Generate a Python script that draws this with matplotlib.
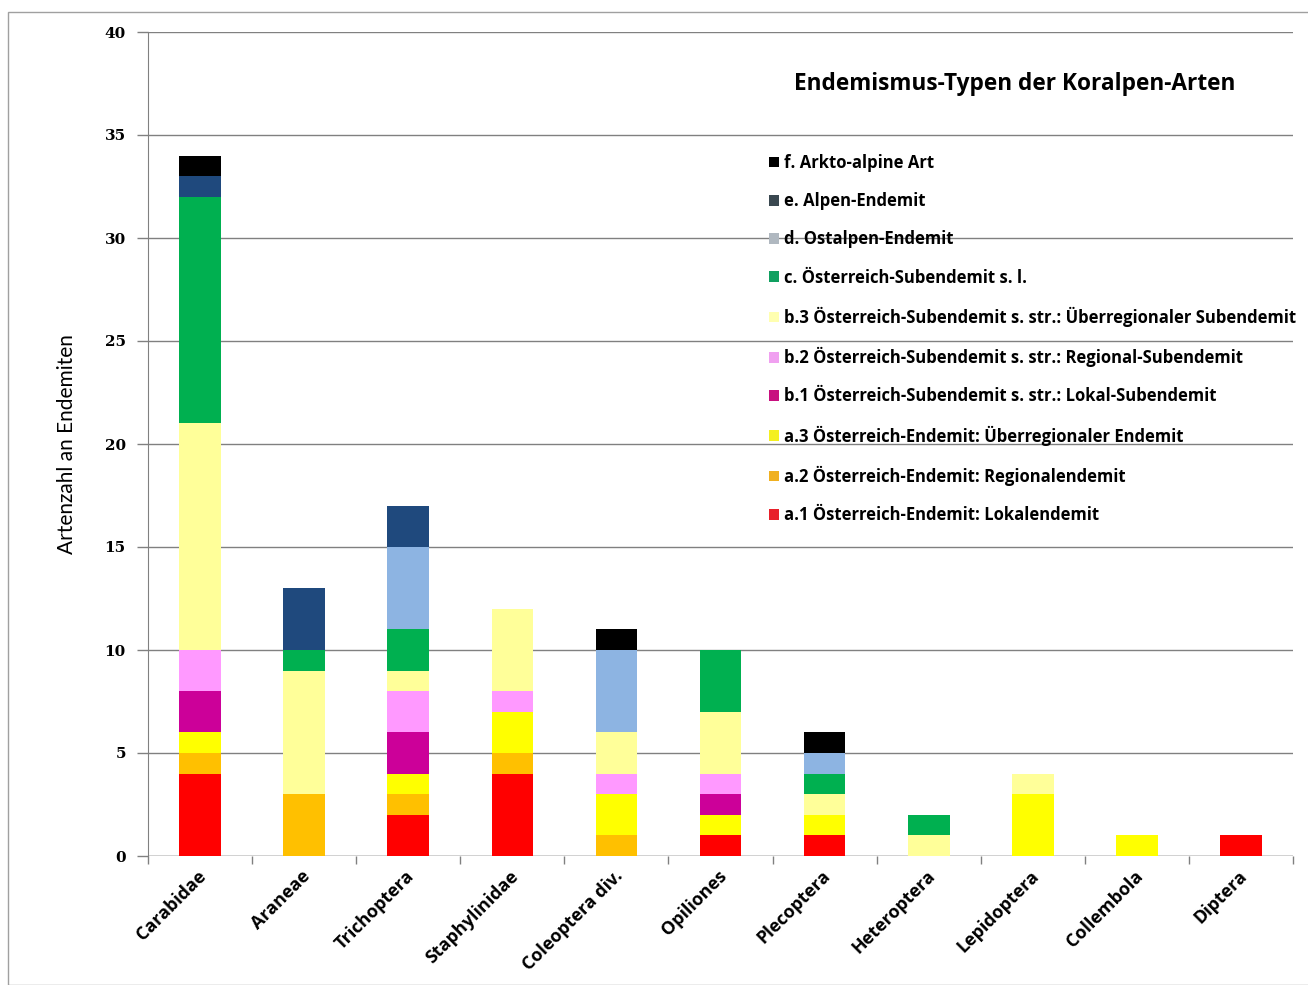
import matplotlib
matplotlib.use("Agg")
import matplotlib.pyplot as plt
import matplotlib.transforms as mtransforms
from matplotlib.patches import Patch, Rectangle
import numpy as np

# Insect groups on the x axis
groups = ["Carabidae", "Araneae", "Trichoptera", "Staphylinidae", "Coleoptera div.",
          "Opiliones", "Plecoptera", "Heteroptera", "Lepidoptera", "Collembola", "Diptera"]

# Endemism types, stacked from bottom to top
types = [
    "a.1 Österreich-Endemit: Lokalendemit",
    "a.2 Österreich-Endemit: Regionalendemit",
    "a.3 Österreich-Endemit: Überregionaler Endemit",
    "b.1 Österreich-Subendemit s. str.: Lokal-Subendemit",
    "b.2 Österreich-Subendemit s. str.: Regional-Subendemit",
    "b.3 Österreich-Subendemit s. str.: Überregionaler Subendemit",
    "c. Österreich-Subendemit s. l.",
    "d. Ostalpen-Endemit",
    "e. Alpen-Endemit",
    "f. Arkto-alpine Art",
]

# Species counts per type (one list per type, in group order)
a1 = [4, 0, 2, 4, 0, 1, 1, 0, 0, 0, 1]
a2 = [1, 3, 1, 1, 1, 0, 0, 0, 0, 0, 0]
a3 = [1, 0, 1, 2, 2, 1, 1, 0, 3, 1, 0]
b1 = [2, 0, 2, 0, 0, 1, 0, 0, 0, 0, 0]
b2 = [2, 0, 2, 1, 1, 1, 0, 0, 0, 0, 0]
b3 = [11, 6, 1, 4, 2, 3, 1, 1, 1, 0, 0]
c = [11, 1, 2, 0, 0, 3, 1, 1, 0, 0, 0]
d = [0, 0, 4, 0, 4, 0, 1, 0, 0, 0, 0]
e = [1, 3, 2, 0, 0, 0, 0, 0, 0, 0, 0]
f = [1, 0, 0, 0, 1, 0, 1, 0, 0, 0, 0]
series = [a1, a2, a3, b1, b2, b3, c, d, e, f]

bar_colors = ["#FF0000", "#FFC000", "#FFFF00", "#CC0099", "#FF99FF",
              "#FFFF99", "#00B050", "#8DB4E2", "#1F497D", "#000000"]
key_colors = ["#E8202A", "#F0B020", "#F4F020", "#C8107F", "#F0A0F0",
              "#FFFFB0", "#10A060", "#B0B8C0", "#3A4850", "#000000"]

W, H = 1308, 985
fig = plt.figure(figsize=(W / 100, H / 100), dpi=100)
fig.patch.set_facecolor("white")

# thin frame around the whole chart area
fig.patches.append(Rectangle((8 / W, 0), 1.2, 1 - 12 / H, transform=fig.transFigure,
                             fill=False, edgecolor="#A0A0A0", linewidth=1.0))

left, right, top, bottom = 148, 1293, 32, 856
ax = fig.add_axes([left / W, 1 - bottom / H, (right - left) / W, (bottom - top) / H])

x = np.arange(len(groups))
base = np.zeros(len(groups))
for vals, col, lab in zip(series, bar_colors, types):
    ax.bar(x, vals, bottom=base, width=0.4, color=col, label=lab, zorder=3, linewidth=0)
    base += np.array(vals)

ax.set_xlim(-0.5, len(groups) - 0.5)
ax.set_ylim(0, 40)
ax.set_yticks(np.arange(0, 41, 5))
ax.yaxis.grid(True, color="#808080", linewidth=1.0, zorder=0)
ax.set_axisbelow(True)

for s in ["top", "right", "bottom"]:
    ax.spines[s].set_visible(False)
ax.spines["left"].set_color("#808080")
ax.axhline(0, color="#808080", linewidth=1.0, zorder=2)

ax.tick_params(axis="y", length=8, color="#808080", width=1, pad=8)
for t in ax.get_yticklabels():
    t.set_fontfamily("DejaVu Serif")
    t.set_fontweight("bold")
    t.set_fontsize(11)

# category boundary ticks along the x axis
ax.set_xticks(np.arange(-0.5, len(groups)), minor=True)
ax.tick_params(axis="x", which="minor", length=6, color="#808080", width=1, direction="out")
ax.tick_params(axis="x", which="major", length=0, pad=8)
ax.set_xticks(x)
ax.set_xticklabels(groups, rotation=45, ha="right", rotation_mode="anchor",
                   fontfamily="Open Sans", fontweight="bold", fontsize=13)
# shift labels so they end just right of the bar centres
offset = mtransforms.ScaledTranslation(-3 / 100, 0, fig.dpi_scale_trans)
for lbl in ax.get_xticklabels():
    lbl.set_transform(lbl.get_transform() + offset)

ax.set_ylabel("Artenzahl an Endemiten", fontfamily="Lato", fontsize=15, labelpad=20)

fig.text(1015 / W, 1 - 84 / H, "Endemismus-Typen der Koralpen-Arten", ha="center", va="center",
         fontfamily="Open Sans", fontweight="bold", fontsize=16.3)

handles = [Patch(facecolor=kc, edgecolor="none") for kc in key_colors]
leg = fig.legend(handles[::-1], types[::-1], loc="upper left",
                 bbox_to_anchor=(769 / W, 1 - 154 / H), frameon=False,
                 handlelength=0.6, handleheight=0.6, handletextpad=0.3,
                 labelspacing=1.21, borderpad=0, borderaxespad=0,
                 prop={"family": "Open Sans", "weight": "bold", "size": 12})

fig.savefig("out.png", dpi=100)
